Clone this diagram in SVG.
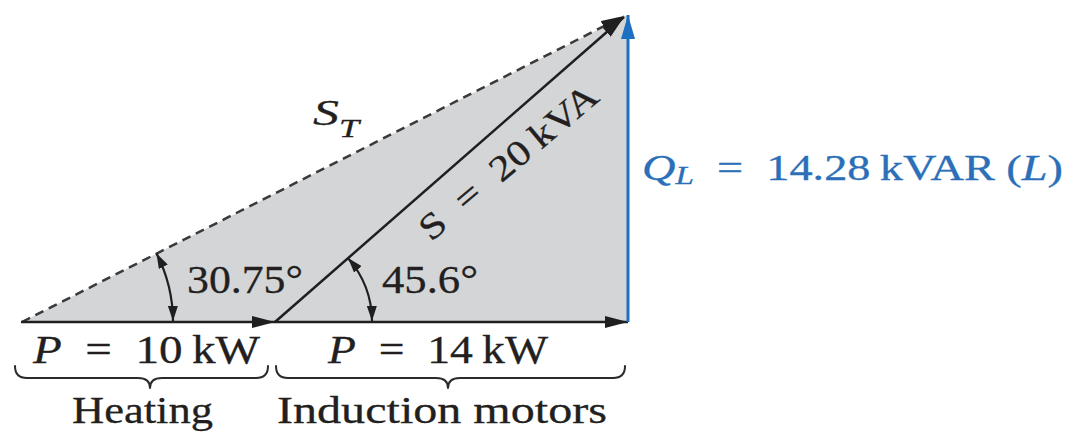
<svg xmlns="http://www.w3.org/2000/svg" width="1067" height="432" viewBox="0 0 1067 432">
  <style>
    .t { font-family: "Liberation Serif", "Times New Roman", serif; fill: #231f20; stroke: #231f20; stroke-width: 0.3; }
    .b { fill: #2a6fb8; stroke: #2a6fb8; }
    .i { font-style: italic; }
    .vec { stroke: #1f1f1f; stroke-width: 2.5; fill: none; }
    .dash { stroke: #3a3a3a; stroke-width: 2.5; fill: none; stroke-dasharray: 9 6; }
    .arc { stroke: #1f1f1f; stroke-width: 2.2; fill: none; }
    .brace { stroke: #2a2a2a; stroke-width: 2; fill: none; stroke-linecap: round; stroke-linejoin: round; }
  </style>
  <defs>
    <marker id="ah" markerUnits="userSpaceOnUse" markerWidth="24" markerHeight="12" refX="23" refY="6" orient="auto">
      <path d="M0,0 L23,6 L0,12 z" fill="#1f1f1f"/>
    </marker>
    <marker id="ahb" markerUnits="userSpaceOnUse" markerWidth="24" markerHeight="14" refX="24" refY="7" orient="auto">
      <path d="M0,0 L24,7 L0,14 z" fill="#1d6fc1"/>
    </marker>
    <marker id="sa" markerUnits="userSpaceOnUse" markerWidth="15" markerHeight="10" refX="15" refY="5" orient="auto-start-reverse">
      <path d="M0,0 L15,5 L0,10 z" fill="#1f1f1f"/>
    </marker>
  </defs>

  <g id="fill">
    <polygon points="22,322 625,16 628,16 628,322" fill="#d4d5d7"/>
  </g>

  <g id="connectors">
    <line id="ST" class="dash" x1="22" y1="322" x2="624" y2="16" marker-end="url(#ah)"/>
    <line id="S" class="vec" x1="275" y1="322" x2="624" y2="17" marker-end="url(#ah)"/>
    <line id="P1" class="vec" x1="21" y1="322" x2="275" y2="322" marker-end="url(#ah)"/>
    <line id="P2" class="vec" x1="275" y1="322" x2="628" y2="322" marker-end="url(#ah)"/>
    <line id="QL" x1="628" y1="322" x2="628" y2="15" stroke="#1d6fc1" stroke-width="3" marker-end="url(#ahb)"/>
    <path id="arc1" class="arc" d="M173,321 A151,151 0 0 0 156.5,253.4" marker-start="url(#sa)" marker-end="url(#sa)"/>
    <path id="arc2" class="arc" d="M372,321 A97,97 0 0 0 348,258.1" marker-start="url(#sa)" marker-end="url(#sa)"/>
    <path id="brace1" class="brace" d="M15,366 Q15,378 27,378 L138,378 Q150,378 150,388 Q150,378 162,378 L256,378 Q268,378 268,366"/>
    <path id="brace2" class="brace" d="M276,366 Q276,378 288,378 L436,378 Q448,378 448,388 Q448,378 460,378 L613,378 Q625,378 625,366"/>
  </g>

  <g id="labels">
    <text class="t" x="313" y="125" font-size="36" textLength="46" lengthAdjust="spacingAndGlyphs"><tspan class="i">S</tspan><tspan class="i" font-size="25" dy="12">T</tspan></text>
    <text class="t" x="516" y="171" font-size="36" text-anchor="middle" textLength="222" lengthAdjust="spacingAndGlyphs" transform="rotate(-40 516 171)">S&#160;&#160;=&#160;&#160;20&#8201;kVA</text>
    <text class="t" x="187" y="293" font-size="40" textLength="116" lengthAdjust="spacingAndGlyphs">30.75°</text>
    <text class="t" x="382" y="293" font-size="40" textLength="96" lengthAdjust="spacingAndGlyphs">45.6°</text>
    <text class="t" x="33" y="363" font-size="39" textLength="227" lengthAdjust="spacingAndGlyphs"><tspan class="i">P</tspan>&#160;&#160;=&#160;&#160;10&#8201;kW</text>
    <text class="t" x="328" y="363" font-size="39" textLength="220" lengthAdjust="spacingAndGlyphs"><tspan class="i">P</tspan>&#160;&#160;=&#160;&#160;14&#8201;kW</text>
    <text class="t" x="72" y="423" font-size="38" textLength="141" lengthAdjust="spacingAndGlyphs">Heating</text>
    <text class="t" x="277" y="423" font-size="38" textLength="330" lengthAdjust="spacingAndGlyphs">Induction motors</text>
    <text class="t b" x="642" y="180" font-size="35" textLength="421" lengthAdjust="spacingAndGlyphs"><tspan class="i">Q</tspan><tspan class="i" font-size="25" dy="4">L</tspan><tspan dy="-4">&#160;&#160;=&#160;&#160;14.28&#8201;kVAR (</tspan><tspan class="i">L</tspan>)</text>
  </g>
</svg>
